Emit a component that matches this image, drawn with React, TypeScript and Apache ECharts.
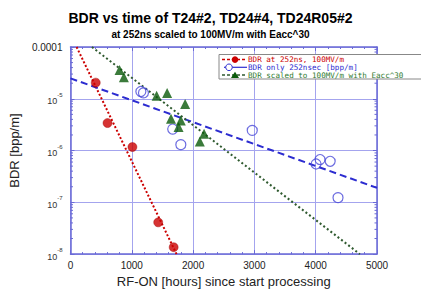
import React, { useEffect, useRef } from "react";
import * as echarts from "echarts";

const titleText = "BDR vs time of T24#2, TD24#4, TD24R05#2";
const subtitleText = "at 252ns scaled to 100MV/m with Eacc^30";
const xAxisName = "RF-ON [hours] since start processing";
const yAxisName = "BDR [bpp/m]";

// Red: BDR at 252ns, 100MV/m
const redX = [412, 604, 1010, 1431, 1683];
const redY = [2.05e-5, 3.4e-6, 1.17e-6, 4.1e-8, 1.36e-8];
// Blue: BDR only 252nsec
const blueX = [1148, 1190, 1667, 1800, 2965, 4006, 4071, 4236, 4364];
const blueY = [1.38e-5, 1.3e-5, 2.6e-6, 1.3e-6, 2.45e-6, 5.5e-7, 6.7e-7, 6.2e-7, 1.23e-7];
// Green: BDR scaled to 100MV/m with Eacc^30
const greenX = [801, 871, 1405, 1576, 1870, 1640, 1800, 1763, 2179, 2110];
const greenY = [3.6e-5, 2.6e-5, 1.14e-5, 1.29e-5, 7.9e-6, 4.1e-6, 3.8e-6, 2.86e-6, 2.1e-6, 1.5e-6];

// Trend lines (end points)
const redFitX = [100, 1730];
const redFitY = [1e-4, 1e-8];
const blueFitX = [0, 5000];
const blueFitY = [2.48e-5, 1.9e-7];
const greenFitX = [350, 4720];
const greenFitY = [1e-4, 1e-8];

const legendLabels = [
  "BDR at 252ns, 100MV/m",
  "BDR only 252nsec [bpp/m]",
  "BDR scaled to 100MV/m with Eacc^30",
];

const minorMultipliers = [2, 3, 4, 5, 6, 7, 8, 9];
const decadeExps = [-8, -7, -6, -5];

const RED = "#cc0000";
const BLUE = "#2c2cd0";
const GREEN = "#0a5a0a";
const FRAME = "#6a6ad6";
const GRID = "#a4a4ee";

const zip = (xs: number[], ys: number[]) => xs.map((x, i) => [x, ys[i]]);

export default function App() {
  const ref = useRef<HTMLDivElement>(null);
  useEffect(() => {
    if (!ref.current) return;
    const chart = echarts.init(ref.current, undefined, { renderer: "svg" });
    const minorVals: number[][] = [];
    decadeExps.forEach((e) =>
      minorMultipliers.forEach((m) => minorVals.push([0, m * Math.pow(10, e)]))
    );
    const axisCommon = {
      axisLine: { show: true, onZero: false, lineStyle: { color: FRAME, width: 1.5 } },
      axisTick: { show: true, inside: true, length: 4, lineStyle: { color: FRAME } },
    };
    const legendRows = [0, 1, 2].map((i) => 59.6 + i * 7.7);
    const legendFont = "7.6px 'DejaVu Sans Mono'";
    const option: any = {
      animation: false,
      backgroundColor: "#fff",
      title: {
        text: titleText,
        subtext: subtitleText,
        left: "center",
        top: 6,
        itemGap: 4,
        textStyle: { fontFamily: "Arial, Liberation Sans", fontSize: 14, fontWeight: "bold", color: "#000" },
        subtextStyle: { fontFamily: "Arial, Liberation Sans", fontSize: 10, fontWeight: "bold", color: "#000" },
      },
      grid: { left: 65, top: 47, right: 44, bottom: 38 },
      xAxis: [
        {
          type: "value",
          min: 0,
          max: 5000,
          interval: 1000,
          position: "bottom",
          ...axisCommon,
          minorTick: { show: true, splitNumber: 5, length: 2, lineStyle: { color: FRAME } },
          splitLine: { show: true, lineStyle: { color: GRID, width: 1 } },
          axisLabel: {
            fontFamily: "Arial, Liberation Sans",
            fontSize: 10,
            color: "#222",
            margin: 6,
            formatter: (v: number) => String(v),
          },
          name: xAxisName,
          nameLocation: "middle",
          nameGap: 19,
          nameTextStyle: { fontFamily: "Arial, Liberation Sans", fontSize: 13, color: "#222" },
        },
        {
          type: "value",
          min: 0,
          max: 5000,
          interval: 1000,
          position: "top",
          ...axisCommon,
          minorTick: { show: true, splitNumber: 5, length: 2, lineStyle: { color: FRAME } },
          splitLine: { show: false },
          axisLabel: { show: false },
        },
      ],
      yAxis: [
        {
          type: "log",
          logBase: 10,
          min: 1e-8,
          max: 1e-4,
          position: "left",
          ...axisCommon,
          splitLine: { show: true, lineStyle: { color: GRID, width: 1 } },
          axisLabel: {
            fontFamily: "Arial, Liberation Sans",
            fontSize: 10,
            color: "#222",
            margin: 8,
            formatter: (v: number) => {
              const e = Math.round(Math.log10(v));
              if (e === -4) return "0.0001";
              return "{b|10}{s|" + e + "}";
            },
            rich: {
              b: { fontFamily: "Arial, Liberation Sans", fontSize: 9, color: "#333", verticalAlign: "bottom", lineHeight: 14 },
              s: { fontFamily: "Arial, Liberation Sans", fontSize: 6, color: "#333", verticalAlign: "top", lineHeight: 14 },
            },
          },
          name: yAxisName,
          nameLocation: "middle",
          nameGap: 36,
          nameRotate: 90,
          nameTextStyle: { fontFamily: "Arial, Liberation Sans", fontSize: 13, color: "#222" },
        },
        {
          type: "log",
          logBase: 10,
          min: 1e-8,
          max: 1e-4,
          position: "right",
          ...axisCommon,
          splitLine: { show: false },
          axisLabel: { show: false },
        },
      ],
      series: [
        {
          type: "custom",
          xAxisIndex: 0,
          yAxisIndex: 0,
          silent: true,
          data: minorVals,
          renderItem: (params: any, api: any) => {
            const v = api.value(1);
            const l = api.coord([0, v]);
            const r = api.coord([5000, v]);
            const st = { stroke: FRAME, lineWidth: 1 };
            return {
              type: "group",
              children: [
                { type: "line", shape: { x1: l[0], y1: l[1], x2: l[0] + 2.5, y2: l[1] }, style: st },
                { type: "line", shape: { x1: r[0] - 2.5, y1: r[1], x2: r[0], y2: r[1] }, style: st },
              ],
            };
          },
        },
        {
          type: "line",
          data: zip(redFitX, redFitY),
          symbol: "none",
          lineStyle: { color: RED, width: 2, type: [2, 2] },
          z: 3,
        },
        {
          type: "line",
          data: zip(blueFitX, blueFitY),
          symbol: "none",
          lineStyle: { color: BLUE, width: 2, type: [7, 4] },
          z: 3,
        },
        {
          type: "line",
          data: zip(greenFitX, greenFitY),
          symbol: "none",
          lineStyle: { color: "#2f5a2f", width: 2, type: [2, 2.5] },
          z: 3,
        },
        {
          type: "scatter",
          data: zip(redX, redY),
          symbol: "circle",
          symbolSize: 9,
          itemStyle: { color: RED, borderColor: "#9a0000", borderWidth: 0.5 },
          z: 5,
        },
        {
          type: "scatter",
          data: zip(blueX, blueY),
          symbol: "circle",
          symbolSize: 10,
          itemStyle: { color: "rgba(255,255,255,0)", borderColor: "#4848d8", borderWidth: 1.2 },
          z: 5,
        },
        {
          type: "scatter",
          data: zip(greenX, greenY),
          symbol: "triangle",
          symbolSize: 10,
          itemStyle: { color: GREEN },
          z: 5,
        },
      ],
      graphic: [
        {
          type: "rect",
          z: 100,
          shape: { x: 219, y: 54.5, width: 210, height: 24.5 },
          style: { fill: "#fff", stroke: "#888", lineWidth: 1 },
        },
        // row 1
        { type: "line", z: 101, shape: { x1: 222, y1: legendRows[0], x2: 247, y2: legendRows[0] }, style: { stroke: RED, lineWidth: 1.5, lineDash: [3, 2] } },
        { type: "circle", z: 102, shape: { cx: 235, cy: legendRows[0], r: 3.3 }, style: { fill: RED } },
        { type: "text", z: 102, x: 248, y: legendRows[0], style: { text: legendLabels[0], fill: RED, font: legendFont, verticalAlign: "middle" } },
        // row 2
        { type: "line", z: 101, shape: { x1: 224, y1: legendRows[1], x2: 247, y2: legendRows[1] }, style: { stroke: BLUE, lineWidth: 1.2 } },
        { type: "circle", z: 102, shape: { cx: 229, cy: legendRows[1], r: 3.3 }, style: { fill: "#fff", stroke: BLUE, lineWidth: 1 } },
        { type: "text", z: 102, x: 248, y: legendRows[1], style: { text: legendLabels[1], fill: BLUE, font: legendFont, verticalAlign: "middle" } },
        // row 3
        { type: "line", z: 101, shape: { x1: 222, y1: legendRows[2], x2: 247, y2: legendRows[2] }, style: { stroke: "#2f5a2f", lineWidth: 1.5, lineDash: [3, 2] } },
        { type: "polygon", z: 102, shape: { points: [[235, legendRows[2] - 3.3], [231, legendRows[2] + 3], [239, legendRows[2] + 3]] }, style: { fill: GREEN } },
        { type: "text", z: 102, x: 248, y: legendRows[2], style: { text: legendLabels[2], fill: "#2f7a2f", font: legendFont, verticalAlign: "middle" } },
      ],
    };
    chart.setOption(option);
    return () => chart.dispose();
  }, []);
  return (
    <div
      ref={ref}
      style={{ position: "fixed", left: 0, top: 0, width: 421, height: 293, background: "#fff" }}
    />
  );
}
